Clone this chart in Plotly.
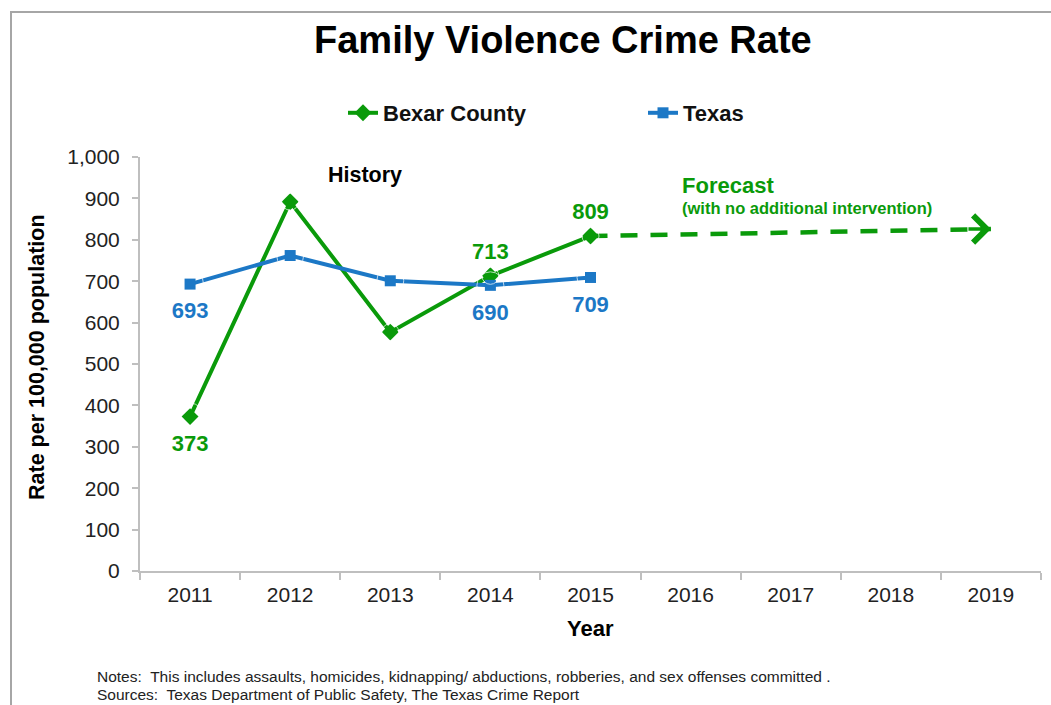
import plotly.graph_objects as go

years = ["2011", "2012", "2013", "2014", "2015", "2016", "2017", "2018", "2019"]
hist_years = ["2011", "2012", "2013", "2014", "2015"]
bexar = [373, 892, 577, 713, 809]
texas = [693, 762, 701, 690, 709]
bexar_show = [True, False, False, True, True]
bexar_pos = ["bottom center", "top center", "top center", "top center", "top center"]
texas_show = [True, False, False, True, True]
texas_pos = ["bottom center"] * 5
forecast_years = ["2015", "2019"]
forecast_values = [809, 826]
y_ticks = list(range(0, 1001, 100))

GREEN = "#0A9A0A"
BLUE = "#1C78C6"
FONT = "Arial, Liberation Sans, sans-serif"

W, H = 1051, 705
L, R, T, B = 140, 10, 157, 134
pw = W - L - R
ph = H - T - B


def px_x(x):
    return (x - L) / pw


def px_y(y):
    return (H - B - y) / ph


fig = go.Figure()

fig.add_trace(go.Scatter(
    x=forecast_years, y=forecast_values, mode="lines",
    line=dict(color=GREEN, width=4.5, dash="17px,13px"),
    showlegend=False, hoverinfo="skip", cliponaxis=False,
))

fig.add_trace(go.Scatter(
    x=hist_years, y=bexar, name="Bexar County", mode="lines+markers",
    line=dict(color=GREEN, width=4),
    marker=dict(symbol="diamond", size=13, color=GREEN),
    cliponaxis=False,
))

fig.add_trace(go.Scatter(
    x=hist_years, y=texas, name="Texas", mode="lines+markers",
    line=dict(color=BLUE, width=4),
    marker=dict(symbol="square", size=11, color=BLUE),
    cliponaxis=False,
))

# data labels (invisible spacer markers control the label offset)
for vals, show, pos, col in [(bexar, bexar_show, bexar_pos, GREEN),
                             (texas, texas_show, texas_pos, BLUE)]:
    fig.add_trace(go.Scatter(
        x=hist_years, y=vals, mode="markers+text",
        marker=dict(size=[27 if p.startswith("bottom") else 17 for p in pos],
                    color="rgba(0,0,0,0)"),
        text=[f"{v:,}" if s else "" for v, s in zip(vals, show)],
        textposition=pos,
        textfont=dict(family=FONT, size=22, color=col, weight="bold"),
        showlegend=False, hoverinfo="skip", cliponaxis=False,
    ))


def ann(text, x, y, size, color="#000000", xanchor="center", **kw):
    return dict(text=text, x=px_x(x), y=px_y(y), xref="paper", yref="paper",
                xanchor=xanchor, yanchor="middle", showarrow=False,
                font=dict(family=FONT, size=size, color=color), **kw)


annotations = [
    # forecast arrow head (category index of the last forecast year)
    dict(x=years.index(forecast_years[-1]), y=forecast_values[-1], xref="x", yref="y",
         ax=-24, ay=0, axref="pixel", ayref="pixel", showarrow=True,
         arrowhead=4, arrowsize=1.5, arrowwidth=3.5, arrowcolor=GREEN,
         text=" ", font=dict(size=1), standoff=0, startstandoff=0),
    ann("<b>Family Violence Crime Rate</b>", 563, 40, 38),
    ann("<b>History</b>", 365, 175, 21.5),
    ann("<b>Forecast</b>", 680, 185, 22, GREEN, xanchor="left"),
    ann("<b>(with no additional intervention)</b>", 680, 208, 16.5, GREEN, xanchor="left"),
    ann("<b>Rate per 100,000 population</b>", 37, 357, 21.5, textangle=-90),
    ann("<b>Year</b>", 590, 628, 22),
    ann("Notes:  This includes assaults, homicides, kidnapping/ abductions, robberies, and sex offenses committed .",
        95, 676, 15.5, "#222222", xanchor="left"),
    ann("Sources:  Texas Department of Public Safety, The Texas Crime Report",
        95, 694, 15.5, "#222222", xanchor="left"),
]

fig.update_layout(
    width=W, height=H,
    margin=dict(l=L, r=R, t=T, b=B),
    paper_bgcolor="white", plot_bgcolor="white",
    font=dict(family=FONT, color="#222222"),
    showlegend=True,
    legend=dict(orientation="h", x=px_x(343), y=px_y(92), xanchor="left", yanchor="top",
                xref="paper", yref="paper",
                font=dict(family=FONT, size=22, color="#111111", weight="bold"),
                entrywidth=255, itemwidth=30, bgcolor="rgba(0,0,0,0)",
                tracegroupgap=0),
    xaxis=dict(type="category", categoryorder="array", categoryarray=years,
               range=[-0.5, len(years) - 0.5], tickson="boundaries",
               ticks="outside", ticklen=7, tickcolor="#BFBFBF", tickwidth=2,
               showline=True, linecolor="#BFBFBF", linewidth=2, showgrid=False,
               ticklabelstandoff=4,
               tickfont=dict(family=FONT, size=21, color="#222222"), fixedrange=True),
    yaxis=dict(range=[0, 1000], tickvals=y_ticks, tickformat=",",
               ticks="outside", ticklen=6, tickcolor="#BFBFBF", tickwidth=2,
               showline=True, linecolor="#BFBFBF", linewidth=2, showgrid=False,
               zeroline=False, ticklabelstandoff=8,
               tickfont=dict(family=FONT, size=21, color="#222222"), fixedrange=True),
    annotations=annotations,
    shapes=[dict(type="rect", xref="paper", yref="paper",
                 x0=px_x(11), x1=px_x(1070), y0=px_y(720), y1=px_y(12),
                 line=dict(color="#A6A6A6", width=2), fillcolor="rgba(0,0,0,0)",
                 layer="below")],
)

fig.write_html("out.html")
